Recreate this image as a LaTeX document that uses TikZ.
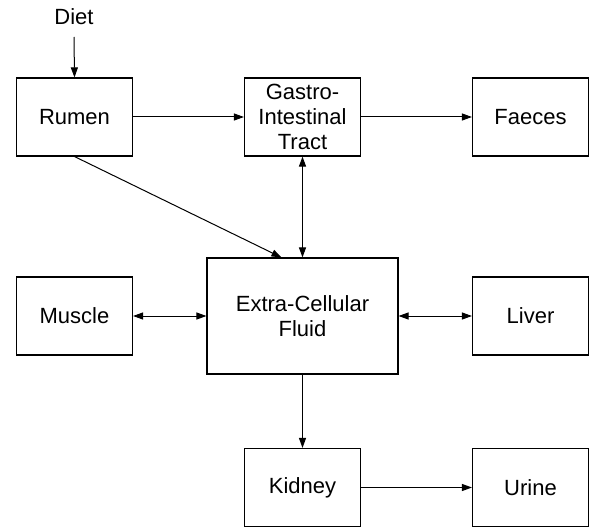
\documentclass[tikz,border=0pt]{standalone}
\usepackage{fontspec}
\setmainfont{Liberation Sans}
\usepackage{tikz}
\usetikzlibrary{arrows.meta}
\tikzstyle{organ} = [rectangle, minimum width = 116pt, minimum height = 78pt, text centered, align = center, draw = black, line width = 1.1pt, font = \fontsize{22}{25}\selectfont]
\tikzstyle{pool} = [organ, minimum width = 191pt, minimum height = 116pt]
\tikzstyle{arrow} = [line width = 1pt, -{Triangle[length=10pt,width=7pt]}]
\tikzstyle{twoway} = [line width = 1pt, {Triangle[length=10pt,width=7pt]}-{Triangle[length=10pt,width=7pt]}]

\begin{document}
\begin{tikzpicture}[node distance = 228pt]
\useasboundingbox (0,0) rectangle (590pt,-527pt);

\node(diet) at (74pt,-17pt) [font = \fontsize{22}{25}\selectfont] {Diet};
\node(rumen) at (74.5pt,-117pt) [organ] {Rumen};
\node(git)    [organ, right of = rumen] {Gastro-\\Intestinal\\Tract};
\node(faeces) [organ, right of = git] {Faeces};
\node(ecf)    [pool, below of = git, yshift=29pt] {Extra-Cellular\\Fluid};
\node(muscle) [organ, left of = ecf] {Muscle};
\node(liver)  [organ, right of = ecf] {Liver};
\node(kidney) [organ, below of = ecf, yshift=56.5pt] {Kidney};
\node(urine)  [organ, right of = kidney] {Urine};

\draw [arrow] (diet) ++(0,-20pt) -- (rumen.north);
\draw [arrow] (rumen) -- (git);
\draw [arrow] (git) -- (faeces);
\draw [arrow] (rumen.south) -- ([xshift=-21pt]ecf.north);
\draw [twoway] (git) -- (ecf);
\draw [twoway] (muscle) -- (ecf);
\draw [twoway] (ecf) -- (liver);
\draw [arrow] (ecf) -- (kidney);
\draw [arrow] (kidney) -- (urine);

\end{tikzpicture}
\end{document}
